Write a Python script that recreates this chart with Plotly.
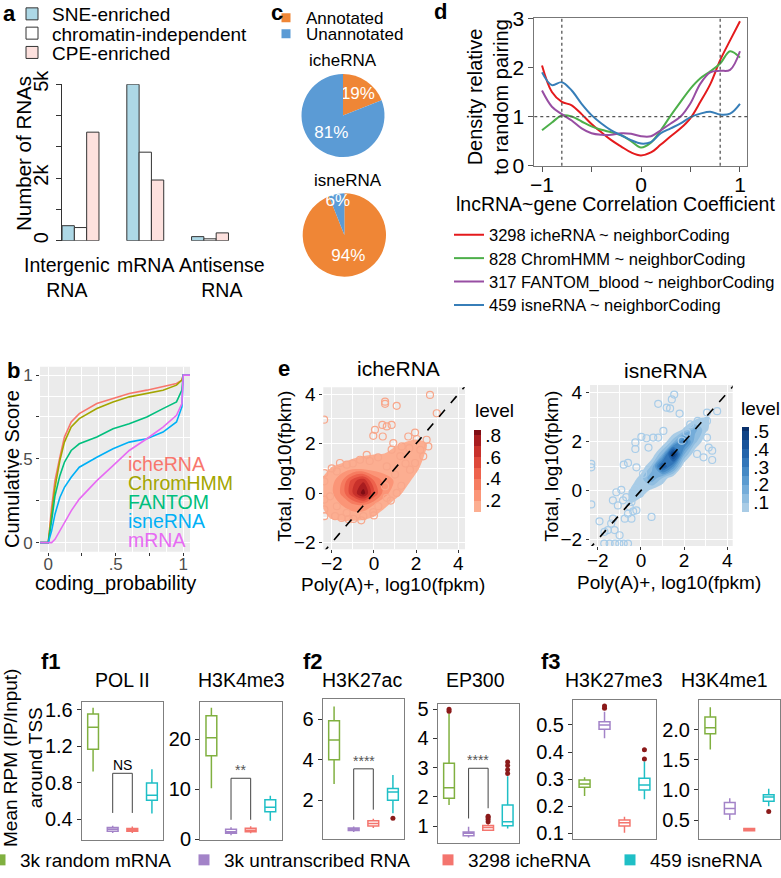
import plotly.graph_objects as go

W, H = 781, 878
FONT = "Liberation Sans, Arial, sans-serif"

# ---------------- data ----------------
# a: number of RNAs per class
a_types = ["Intergenic<br>RNA", "mRNA", "Antisense<br>RNA"]
a_series = ["SNE-enriched", "chromatin-independent", "CPE-enriched"]
a_sne = [480, 5000, 130]
a_indep = [420, 2830, 60]
a_cpe = [3470, 1940, 250]

# c: annotated fraction
c_labels = ["Annotated", "Unannotated"]
c_iche = [19, 81]
c_isne = [94, 6]

# d: density relative to random pairing
d_x = [-1, -0.9, -0.8, -0.7, -0.6, -0.5, -0.4, -0.3, -0.2, -0.1, 0,
       0.1, 0.2, 0.3, 0.4, 0.5, 0.6, 0.7, 0.8, 0.9, 1]
d_iche = [2.04, 1.5, 1.3, 1.23, 1.05, 0.85, 0.68, 0.52, 0.39, 0.27, 0.21,
          0.27, 0.43, 0.6, 0.76, 0.97, 1.3, 1.66, 2.15, 2.55, 2.94]
d_chrom = [0.72, 0.88, 1.02, 1.0, 0.9, 0.8, 0.73, 0.68, 0.62, 0.5, 0.37,
           0.47, 0.72, 1.02, 1.3, 1.57, 1.78, 1.92, 2.08, 2.33, 2.2]
d_fantom = [1.53, 1.2, 1.05, 0.92, 0.76, 0.66, 0.63, 0.63, 0.66, 0.65, 0.6,
            0.6, 0.72, 0.86, 1.0, 1.27, 1.67, 1.9, 1.93, 1.95, 2.33]
d_isne = [1.9, 1.64, 1.7, 1.53, 1.26, 1.03, 0.86, 0.72, 0.62, 0.52, 0.45,
          0.48, 0.66, 0.76, 0.86, 0.99, 1.06, 1.1, 1.04, 1.06, 1.26]
d_names = ["3298 icheRNA ~ neighborCoding", "828 ChromHMM ~ neighborCoding",
           "317 FANTOM_blood ~ neighborCoding", "459 isneRNA ~ neighborCoding"]
d_cuts = [-0.8, 0.8]

# b: cumulative distribution of coding probability
b_x = [-0.06, 0, 0.025, 0.05, 0.086, 0.12, 0.17, 0.23, 0.36, 0.48, 0.6,
       0.73, 0.85, 0.95, 0.99, 1.0, 1.05]
b_iche = [0, 0, 0.21, 0.37, 0.51, 0.63, 0.72, 0.77, 0.83, 0.86, 0.89, 0.91, 0.93, 0.95, 0.97, 1, 1]
b_chrom = [0, 0, 0.17, 0.33, 0.49, 0.6, 0.69, 0.74, 0.8, 0.84, 0.87, 0.89, 0.91, 0.94, 0.97, 1, 1]
b_fantom = [0, 0, 0.13, 0.28, 0.4, 0.48, 0.55, 0.59, 0.63, 0.68, 0.71, 0.75, 0.8, 0.84, 0.91, 1, 1]
b_isne = [0, 0, 0.07, 0.17, 0.27, 0.33, 0.39, 0.45, 0.51, 0.56, 0.6, 0.62, 0.66, 0.72, 0.81, 1, 1]
b_mrna = [0, 0, 0.0, 0.02, 0.07, 0.12, 0.19, 0.26, 0.37, 0.46, 0.55, 0.62, 0.69, 0.76, 0.83, 1, 1]
b_names = ["icheRNA", "ChromHMM", "FANTOM", "isneRNA", "mRNA"]

# e: 2d density levels (grid) and sparse points
e_gx_iche = [-2.5, -2, -1.5, -1, -0.5, 0, 0.5, 1, 1.5, 2, 2.5, 3]
e_gy_iche = [-1.5, -1, -0.5, 0, 0.5, 1, 1.5, 2, 2.5]
e_z_iche = [
    [0, 0, 0, 0, 0, 0, 0, 0, 0, 0, 0, 0],
    [0.06, 0.11, 0.13, 0.13, 0.12, 0.09, 0.04, 0, 0, 0, 0, 0],
    [0.1, 0.15, 0.2, 0.26, 0.27, 0.19, 0.12, 0.06, 0.02, 0, 0, 0],
    [0.12, 0.18, 0.33, 0.6, 0.86, 0.5, 0.24, 0.14, 0.08, 0.03, 0, 0],
    [0.11, 0.16, 0.3, 0.56, 0.68, 0.4, 0.26, 0.19, 0.13, 0.07, 0.02, 0],
    [0.05, 0.11, 0.14, 0.17, 0.17, 0.15, 0.15, 0.16, 0.15, 0.12, 0.05, 0],
    [0, 0.03, 0.05, 0.08, 0.1, 0.11, 0.11, 0.13, 0.14, 0.13, 0.09, 0],
    [0, 0, 0, 0, 0, 0.03, 0.06, 0.09, 0.11, 0.12, 0.1, 0],
    [0, 0, 0, 0, 0, 0, 0, 0.02, 0.04, 0.06, 0.04, 0],
]
e_pts_iche_x = [2.66, 0.53, 0.53, 1.08, -2.36, 2.98, 0.40, 0.61, 0.84, 0.05, -0.03, 0.42, 1.95,
                1.63, 2.03, 2.5, 2.58, 0.92, 0.84, 1.32, 1.68, -0.34, -1.29, -1.76, -2.35,
                -2.35, -2.35, -2.35, -2.35, -1.84, -1.53, -0.97, -0.5, -0.03, 0.21, 0.61, 1.08,
                0.53, 1.71, 1.95, 2.34, 1.0, 0.61, -0.66, -1.61, -2.08, -1.76, -1.29, -1.0,
                -0.2, 0.2, 1.25, 1.5, 2.2, -2.0, 0.0, -0.6, -1.2, 0.8, 1.3]
e_pts_iche_y = [3.97, 3.70, 3.61, 3.53, 2.97, 3.23, 2.76, 2.70, 2.76, 2.56, 2.32, 2.29, 2.45,
                2.29, 2.19, 2.16, 1.89, 2.02, 1.76, 1.89, 1.82, 1.55, 1.15, 0.88, 0.81,
                0.48, -0.26, -0.66, -0.93, -0.93, -1.0, -1.04, -0.93, -0.77, -0.53, -0.19, 0.01,
                0.28, 0.95, 1.22, 1.49, 0.75, 1.08, 1.35, 1.22, -0.13, -0.53, -0.8, 1.2,
                1.3, 1.45, 1.5, 1.2, 1.75, 1.0, -0.9, -1.1, -1.05, -0.3, 0.3]

e_gx_isne = [-1.5, -1, -0.5, 0, 0.5, 1, 1.5, 2, 2.5, 3, 3.5]
e_gy_isne = [-1.5, -1, -0.5, 0, 0.5, 1, 1.5, 2, 2.5, 3]
e_z_isne = [
    [0, 0, 0, 0, 0, 0, 0, 0, 0, 0, 0],
    [0, 0.02, 0.004, 0, 0, 0, 0, 0, 0, 0, 0],
    [0, 0.03, 0.05, 0.011, 0, 0, 0, 0, 0, 0, 0],
    [0, 0.01, 0.056, 0.1, 0.032, 0.002, 0, 0, 0, 0, 0],
    [0, 0, 0.005, 0.077, 0.2, 0.09, 0.005, 0, 0, 0, 0],
    [0, 0, 0, 0.005, 0.11, 0.42, 0.25, 0.006, 0, 0, 0],
    [0, 0, 0, 0, 0.005, 0.15, 0.52, 0.16, 0.007, 0, 0],
    [0, 0, 0, 0, 0, 0.005, 0.13, 0.33, 0.12, 0.006, 0],
    [0, 0, 0, 0, 0, 0, 0.003, 0.06, 0.17, 0.066, 0],
    [0, 0, 0, 0, 0, 0, 0, 0, 0.02, 0.066, 0.017],
]
e_pts_isne_x = [1.54, 1.43, 0.80, 1.19, 1.35, 1.79, 3.06, 3.53, 3.06, 2.63, 1.04, 0.80, 0.57,
                0.26, 0.02, -0.26, -0.26, 0.35, 3.06, 3.3, 2.9, 2.6, 3.3, -2.3, -2.3, -0.8,
                -0.6, -0.21, 0.1, -2.3, -0.91, -0.68, -0.83, -1.07, -0.52, -0.36, -0.6, -0.21,
                -0.75, -0.44, -1.3, -1.38, -1.92, -1.53, -1.22, -1.69, -0.99, 0.49, 2.13, 2.28,
                1.89, 3.14, -1.14, -1.3, -0.05, -0.26, -0.44, -1.7, -1.45, -1.2, -1.0, -0.8, -0.6]
e_pts_isne_y = [3.93, 3.73, 3.55, 3.39, 3.36, 3.15, 3.19, 3.25, 2.85, 2.85, 2.44, 2.17, 2.17,
                2.14, 2.2, 1.97, 1.70, 1.76, 2.17, 1.63, 1.36, 1.5, 1.25, 1.09, 0.95, 1.06,
                1.13, 0.95, 0.68, -0.57, 0.03, -0.27, -0.40, -0.61, -0.67, -0.85, -0.95, -0.81,
                -1.15, -1.15, -1.15, -1.35, -1.26, -1.62, -1.62, -1.69, -1.83, -1.08, 2.37, 2.71,
                2.04, 1.76, -0.07, -0.4, -0.13, 0.07, -0.47, -2.17, -2.17, -2.17, -2.17, -2.17, -2.17]

# f: box statistics [lower whisker, q1, median, q3, upper whisker] per group
f_groups = ["3k random mRNA", "3k untranscribed RNA", "3298 icheRNA", "459 isneRNA"]
f_marks = ["POL II", "H3K4me3", "H3K27ac", "EP300", "H3K27me3", "H3K4me1"]
polii = [[0.925, 1.17, 1.41, 1.556, 1.625], [0.25, 0.27, 0.29, 0.31, 0.33],
         [0.25, 0.27, 0.285, 0.30, 0.32], [0.465, 0.61, 0.665, 0.80, 0.95]]
h3k4me3 = [[10.2, 16.7, 20.3, 24.7, 26.3], [0.8, 1.2, 1.5, 2.0, 2.4],
           [1.2, 1.5, 1.8, 2.2, 2.6], [3.7, 5.5, 6.4, 7.9, 8.7]]
h3k27ac = [[2.8, 4.0, 4.98, 5.93, 6.63], [0.42, 0.5, 0.55, 0.62, 0.7],
           [0.62, 0.72, 0.85, 0.98, 1.08], [1.35, 2.0, 2.41, 2.58, 3.25]]
ep300 = [[1.72, 1.95, 2.31, 3.15, 4.86], [0.61, 0.67, 0.75, 0.8, 0.98],
         [0.84, 0.86, 0.95, 1.02, 1.09], [0.92, 1.01, 1.15, 1.72, 2.71]]
h3k27me3 = [[0.238, 0.27, 0.282, 0.297, 0.307], [0.451, 0.484, 0.5, 0.512, 0.549],
            [0.102, 0.127, 0.139, 0.149, 0.161], [0.226, 0.26, 0.278, 0.303, 0.365]]
h3k4me1 = [[1.67, 1.93, 2.03, 2.21, 2.37], [0.5, 0.6, 0.69, 0.79, 0.86],
           [0.31, 0.32, 0.34, 0.36, 0.37], [0.73, 0.81, 0.88, 0.92, 1.02]]
# outliers: (group index, value)
h3k27ac_out = [(3, 1.1)]
ep300_out = [(0, 4.93), (0, 5.0), (2, 1.15), (2, 1.23), (2, 1.3), (2, 1.34),
             (3, 2.8), (3, 2.93), (3, 3.07), (3, 3.19)]
h3k27me3_out = [(1, 0.562), (1, 0.57), (3, 0.374), (3, 0.408)]
h3k4me1_out = [(3, 0.64)]
# purple vs red comparison: (left end, bracket top, right end, label)
polii_sig = (0.47, 0.905, 0.47, "NS")
h3k4me3_sig = (3.9, 12.2, 3.9, "**")
h3k27ac_sig = (1.03, 3.55, 1.53, "****")
ep300_sig = (1.26, 2.98, 1.61, "****")

# ---------------- helpers ----------------
def xd(a, b):
    return [a / W, b / W]


def yd(top, bottom):
    return [1 - bottom / H, 1 - top / H]


def note(text, x, y, size, color="black", angle=0, xanchor="center", bold=False):
    return dict(text="<b>%s</b>" % text if bold else text, x=x / W, y=1 - y / H,
                xref="paper", yref="paper", showarrow=False, textangle=angle,
                xanchor=xanchor, yanchor="middle",
                font=dict(family=FONT, size=size, color=color))


def legend_at(x, y, size):
    return dict(x=x / W, y=1 - y / H, xanchor="left", yanchor="middle",
                bgcolor="rgba(0,0,0,0)", borderwidth=0, itemwidth=30,
                font=dict(family=FONT, size=size, color="black"))


fig = go.Figure()
annotations = []
shapes = []
layout = {}

# ---------------- a ----------------
a_colors = ["#add8e6", "#ffffff", "#fde1de"]
for i, (name, vals, col) in enumerate(zip(a_series, [a_sne, a_indep, a_cpe], a_colors)):
    leg = "legend" if i == 0 else "legend%d" % (i + 1)
    fig.add_trace(go.Bar(x=a_types, y=vals, name=name, legend=leg,
                         marker=dict(color=col, line=dict(color="#333333", width=1)),
                         xaxis="x", yaxis="y", hoverinfo="skip"))
    layout[leg] = legend_at(12, 14 + 19.3 * i, 19)

layout["xaxis"] = dict(domain=xd(62, 242.4), range=[-0.286, 2.5], showline=False, ticks="",
                       showticklabels=False, showgrid=False, zeroline=False)
layout["yaxis"] = dict(domain=yd(84.3, 240.7), range=[0, 5000],
                       tickvals=[0, 1000, 2000, 3000, 4000, 5000],
                       ticktext=["0", "", "2k", "", "", "5k"], tickangle=-90,
                       ticks="outside", ticklen=5, tickcolor="#333333",
                       tickfont=dict(size=20, color="black"), showline=True,
                       linecolor="#333333", showgrid=False, zeroline=False)
# category labels sit a little left of the bar groups, as in the original
for lab, cx in zip(a_types, [67, 145, 222]):
    annotations.append(dict(text=lab, x=cx / W, y=1 - 252 / H, xref="paper", yref="paper",
                            showarrow=False, xanchor="center", yanchor="top",
                            font=dict(family=FONT, size=19.5, color="black")))
annotations.append(note("Number of RNAs", 24, 154, 20.5, angle=-90))
annotations.append(note("a", 9, 13, 22, bold=True))

# ---------------- c ----------------
c_colors = ["#ef8636", "#5b9bd5"]
for vals, dom in [(c_iche, (xd(301, 385), yd(74, 157))), (c_isne, (xd(302.7, 386), yd(193.3, 276.7)))]:
    fig.add_trace(go.Pie(labels=c_labels, values=vals, sort=False, direction="clockwise",
                         rotation=0, marker=dict(colors=c_colors), textinfo="percent",
                         textposition="inside", insidetextorientation="horizontal",
                         textfont=dict(family=FONT, size=17, color="white"),
                         domain=dict(x=dom[0], y=dom[1]), showlegend=False, hoverinfo="skip"))
for i, (lab, col) in enumerate(zip(c_labels, c_colors)):
    leg = "legend%d" % (4 + i)
    fig.add_trace(go.Scatter(x=[None], y=[None], mode="markers", name=lab, legend=leg,
                             marker=dict(symbol="square", size=9, color=col),
                             xaxis="x", yaxis="y"))
    layout[leg] = legend_at(266, 18.3 + 16 * i, 17)
annotations.append(note("icheRNA", 343.3, 60, 17))
annotations.append(note("isneRNA", 348.3, 180, 17))
annotations.append(note("c", 277, 12.5, 22, bold=True))

# ---------------- d ----------------
d_colors = ["#e41a1c", "#4daf4a", "#984ea3", "#377eb8"]
for i, (vals, name, col) in enumerate(zip([d_iche, d_chrom, d_fantom, d_isne], d_names, d_colors)):
    leg = "legend%d" % (6 + i)
    fig.add_trace(go.Scatter(x=d_x, y=vals, mode="lines", name=name, legend=leg,
                             line=dict(color=col, width=2, shape="spline", smoothing=1),
                             xaxis="x3", yaxis="y3", hoverinfo="skip"))
    layout[leg] = legend_at(449, 235 + 23.4 * i, 16.5)
for c in d_cuts:
    shapes.append(dict(type="line", xref="x3", yref="y3 domain", x0=c, x1=c, y0=0, y1=1,
                       line=dict(color="#555555", width=1.3, dash="dot")))
shapes.append(dict(type="line", xref="x3 domain", yref="y3", x0=0, x1=1, y0=1, y1=1,
                   line=dict(color="#555555", width=1.3, dash="dot")))
layout["xaxis3"] = dict(domain=xd(534.3, 747.3), range=[-1.078, 1.074], anchor="y3",
                        tickvals=[-1, -0.5, 0, 0.5, 1], ticktext=["\u22121", "", "0", "", "1"],
                        ticks="outside", ticklen=5, tickcolor="#555555", ticklabelstandoff=-5,
                        tickfont=dict(size=21, color="black"), showline=True, mirror=True,
                        linecolor="#777777", showgrid=False, zeroline=False)
layout["yaxis3"] = dict(domain=yd(18.3, 165.7), range=[0, 3], anchor="x3",
                        tickvals=[0, 1, 2, 3], ticks="outside", ticklen=5, tickcolor="#555555",
                        tickfont=dict(size=21, color="black"), showline=True, mirror=True,
                        linecolor="#777777", showgrid=False, zeroline=False)
annotations.append(note("lncRNA~gene Correlation Coefficient", 615.3, 204, 19.5))
annotations.append(note("Density relative<br>to random pairing", 488.3, 96.5, 20, angle=-90))
annotations.append(note("d", 440, 12, 22, bold=True))

# ---------------- b ----------------
b_colors = ["#F8766D", "#A3A500", "#00BF7D", "#00B0F6", "#E76BF3"]
for vals, name, col in zip([b_iche, b_chrom, b_fantom, b_isne, b_mrna], b_names, b_colors):
    fig.add_trace(go.Scatter(x=b_x, y=vals, mode="lines", name=name, showlegend=False,
                             line=dict(color=col, width=1.6), xaxis="x2", yaxis="y2",
                             hoverinfo="skip"))
for i, (name, col) in enumerate(zip(b_names, b_colors)):
    annotations.append(note(name, 126, 464 + 19 * i, 19.5, color=col, xanchor="left"))
gg_grid = dict(showgrid=True, gridcolor="white", gridwidth=1.2, zeroline=False, showline=False,
               ticks="outside", ticklen=3, tickcolor="#333333")
layout["xaxis2"] = dict(domain=xd(40, 190), range=[-0.061, 1.05], anchor="y2",
                        tickvals=[0, 0.25, 0.5, 0.75, 1], ticktext=["0", "", ".5", "", "1"],
                        tickfont=dict(size=17, color="#4d4d4d"), ticklabelstandoff=-6,
                        minor=dict(dtick=0.125, tick0=0, showgrid=True, gridcolor="white",
                                   gridwidth=0.6), **gg_grid)
layout["yaxis2"] = dict(domain=yd(366.7, 551.7), range=[-0.054, 1.05], anchor="x2",
                        tickvals=[0, 0.25, 0.5, 0.75, 1], ticktext=["0", "", ".5", "", "1"],
                        tickfont=dict(size=17, color="#4d4d4d"),
                        minor=dict(dtick=0.125, tick0=0, showgrid=True, gridcolor="white",
                                   gridwidth=0.6), **gg_grid)
shapes.append(dict(type="rect", xref="x2 domain", yref="y2 domain", x0=0, x1=1, y0=0, y1=1,
                   fillcolor="#ebebeb", line=dict(width=0), layer="below"))
annotations.append(note("Cumulative Score", 12, 469, 20, angle=-90))
annotations.append(note("coding_probability", 115, 583, 20))
annotations.append(note("b", 13, 370, 22, bold=True))

# ---------------- e ----------------
reds = ["#fcae91", "#fb9577", "#f67c60", "#ee624c", "#de483a", "#c8312b", "#a81c1f", "#7f0d14"]
blues = ["#a9cce6", "#8fbde0", "#74acd9", "#5b9bd0", "#4589c5", "#3276b9", "#2364ab",
         "#17539a", "#0e4285", "#08306b"]


def band_scale(cols):
    n = len(cols)
    return [[0, "rgba(255,255,255,0)"]] + [[(k + 1) / n, c] for k, c in enumerate(cols)]


e_panels = [
    ("x4", "y4", e_gx_iche, e_gy_iche, e_z_iche, e_pts_iche_x, e_pts_iche_y, reds,
     dict(start=0.1, end=0.8, size=0.1), [0.2, 0.4, 0.6, 0.8], "#f8a78b",
     (474.3, 473.3, 86.7), (323.3, 465, 387.3, 549.3), [-2.40, 4.32], [-2.27, 4.28]),
    ("x5", "y5", e_gx_isne, e_gy_isne, e_z_isne, e_pts_isne_x, e_pts_isne_y, blues,
     dict(start=0.05, end=0.5, size=0.05), [0.1, 0.2, 0.3, 0.4, 0.5], "#a9cde9",
     (741.7, 471.3, 89.3), (590, 732.7, 385, 546), [-2.36, 4.25], [-2.27, 4.32]),
]
for (xa, ya, gx, gy, z, px_, py_, cols, cont, cticks, ptcol, cb, dom, xr, yr) in e_panels:
    fig.add_trace(go.Scatter(x=px_, y=py_, mode="markers", showlegend=False, hoverinfo="skip",
                             marker=dict(symbol="circle-open", size=7, color=ptcol,
                                         line=dict(width=1.2)),
                             xaxis=xa, yaxis=ya))
    fig.add_trace(go.Contour(x=gx, y=gy, z=z, contours=dict(coloring="fill", **cont),
                             colorscale=band_scale(cols), line=dict(width=0), showlegend=False,
                             hoverinfo="skip", xaxis=xa, yaxis=ya,
                             colorbar=dict(x=cb[0] / W, xanchor="left", xpad=0, ypad=0,
                                           y=1 - cb[1] / H, yanchor="middle",
                                           len=cb[2], lenmode="pixels", thickness=7,
                                           outlinewidth=0, ticks="",
                                           tickvals=cticks,
                                           ticktext=[("%.1f" % t)[1:] for t in cticks],
                                           tickfont=dict(family=FONT, size=19, color="black"))))
    fig.add_trace(go.Scatter(x=[-3, 5], y=[-3, 5], mode="lines", showlegend=False,
                             hoverinfo="skip", line=dict(color="black", width=1.6, dash="dash"),
                             xaxis=xa, yaxis=ya))
    axis_common = dict(tickmode="linear", tick0=0, dtick=2, tickfont=dict(size=19, color="black"),
                       minor=dict(dtick=1, showgrid=True, gridcolor="white", gridwidth=0.6),
                       **gg_grid)
    layout["xaxis" + xa[1:]] = dict(domain=xd(dom[0], dom[1]), range=xr, anchor=ya,
                                    ticklabelstandoff=-6, **axis_common)
    layout["yaxis" + ya[1:]] = dict(domain=yd(dom[2], dom[3]), range=yr, anchor=xa, **axis_common)
    shapes.append(dict(type="rect", xref=xa + " domain", yref=ya + " domain", x0=0, x1=1,
                       y0=0, y1=1, fillcolor="#ebebeb", line=dict(width=0), layer="below"))

annotations += [
    note("icheRNA", 398, 368, 21), note("isneRNA", 665.8, 370, 21),
    note("Total, log10(fpkm)", 285, 466.7, 19, angle=-90),
    note("Total, log10(fpkm)", 552, 466.7, 19, angle=-90),
    note("Poly(A)+, log10(fpkm)", 392.7, 584, 19),
    note("Poly(A)+, log10(fpkm)", 669, 582.5, 19),
    note("level", 473.3, 410, 19, xanchor="left"),
    note("level", 739.3, 408.3, 19, xanchor="left"),
    note("e", 284, 368, 22, bold=True),
]

# ---------------- f ----------------
f_colors = ["#80b040", "#a383c8", "#f4756e", "#1fbfc6"]
f_panels = [
    (polii, [], polii_sig, (81.7, 163.3, 701.7, 840), [0.173, 1.691], [0.4, 0.8, 1.2, 1.6], ".1f", 122.5),
    (h3k4me3, [], h3k4me3_sig, (200, 281.7, 701.7, 840), [-0.14, 27.5], [0, 10, 20], "d", 242),
    (h3k27ac, h3k27ac_out, h3k27ac_sig, (322.7, 404.3, 699.3, 839.3), [0.064, 6.99], [2, 4, 6], "d", 361.7),
    (ep300, ep300_out, ep300_sig, (437.7, 519, 704, 843.3), [0.41, 5.18], [1, 2, 3, 4, 5], "d", 476),
    (h3k27me3, h3k27me3_out, None, (573, 656, 700, 839.3), [0.078, 0.592], [0.1, 0.2, 0.3, 0.4, 0.5], ".1f", 614),
    (h3k4me1, h3k4me1_out, None, (699, 780, 700, 839.3), [0.18, 2.49], [0.5, 1.0, 1.5, 2.0], ".1f", 724),
]
for k, (stats, outs, sig, dom, yr, tv, fmt, tx) in enumerate(f_panels):
    n = 6 + k
    xa, ya = "x%d" % n, "y%d" % n
    for g, (st, col) in enumerate(zip(stats, f_colors)):
        fig.add_trace(go.Box(x=[g], lowerfence=[st[0]], q1=[st[1]], median=[st[2]], q3=[st[3]],
                             upperfence=[st[4]], boxpoints=False, fillcolor="white",
                             line=dict(color=col, width=1.5), whiskerwidth=0, width=0.55,
                             showlegend=False, hoverinfo="skip", xaxis=xa, yaxis=ya))
    if outs:
        fig.add_trace(go.Scatter(x=[o[0] for o in outs], y=[o[1] for o in outs], mode="markers",
                                 marker=dict(color="#8b1a1a", size=5), showlegend=False,
                                 hoverinfo="skip", xaxis=xa, yaxis=ya))
    if sig:
        fig.add_trace(go.Scatter(x=[1, 1, 2, 2], y=[sig[0], sig[1], sig[1], sig[2]], mode="lines",
                                 line=dict(color="#444444", width=1), showlegend=False,
                                 hoverinfo="skip", xaxis=xa, yaxis=ya))
        annotations.append(dict(text=sig[3], x=1.5, y=sig[1], xref=xa, yref=ya, showarrow=False,
                                yanchor="bottom", yshift=-2,
                                font=dict(family=FONT, size=14,
                                          color="black" if sig[3] == "NS" else "#555555")))
    layout["xaxis%d" % n] = dict(domain=xd(dom[0], dom[1]), range=[-0.58, 3.58], anchor=ya,
                                 showticklabels=False, ticks="", showgrid=False, zeroline=False,
                                 showline=True, mirror=True, linecolor="#7f7f7f")
    layout["yaxis%d" % n] = dict(domain=yd(dom[2], dom[3]), range=yr, anchor=xa, tickvals=tv,
                                 tickformat=fmt, ticks="outside", ticklen=4, tickcolor="#333333",
                                 tickfont=dict(size=20, color="black"), showgrid=False,
                                 zeroline=False, showline=True, mirror=True, linecolor="#7f7f7f")
    annotations.append(note(f_marks[k], tx, 680, 19.5))

for i, (name, col, xpos) in enumerate(zip(f_groups, f_colors, [-20, 184, 428, 610])):
    leg = "legend%d" % (10 + i)
    fig.add_trace(go.Scatter(x=[None], y=[None], mode="markers", name=name, legend=leg,
                             marker=dict(symbol="square", size=11, color=col),
                             xaxis="x", yaxis="y"))
    layout[leg] = legend_at(xpos, 860, 19)

annotations += [
    note("Mean RPM (IP/Input)<br>around TSS", 23, 758, 19, angle=-90),
    note("f1", 51, 661, 22, bold=True),
    note("f2", 313, 661, 22, bold=True),
    note("f3", 551, 661, 22, bold=True),
]

fig.update_layout(
    width=W, height=H, margin=dict(l=0, r=0, t=0, b=0, autoexpand=False),
    paper_bgcolor="white", plot_bgcolor="white",
    font=dict(family=FONT, color="black"),
    barmode="group", bargap=0.43, bargroupgap=0,
    uniformtext=dict(minsize=17, mode="show"),
    showlegend=True, annotations=annotations, shapes=shapes,
    **layout,
)
# the page body keeps its default 8px margin otherwise
fig.write_html("out.html", config={"displayModeBar": False},
               post_script="document.body.style.margin = '0';")
